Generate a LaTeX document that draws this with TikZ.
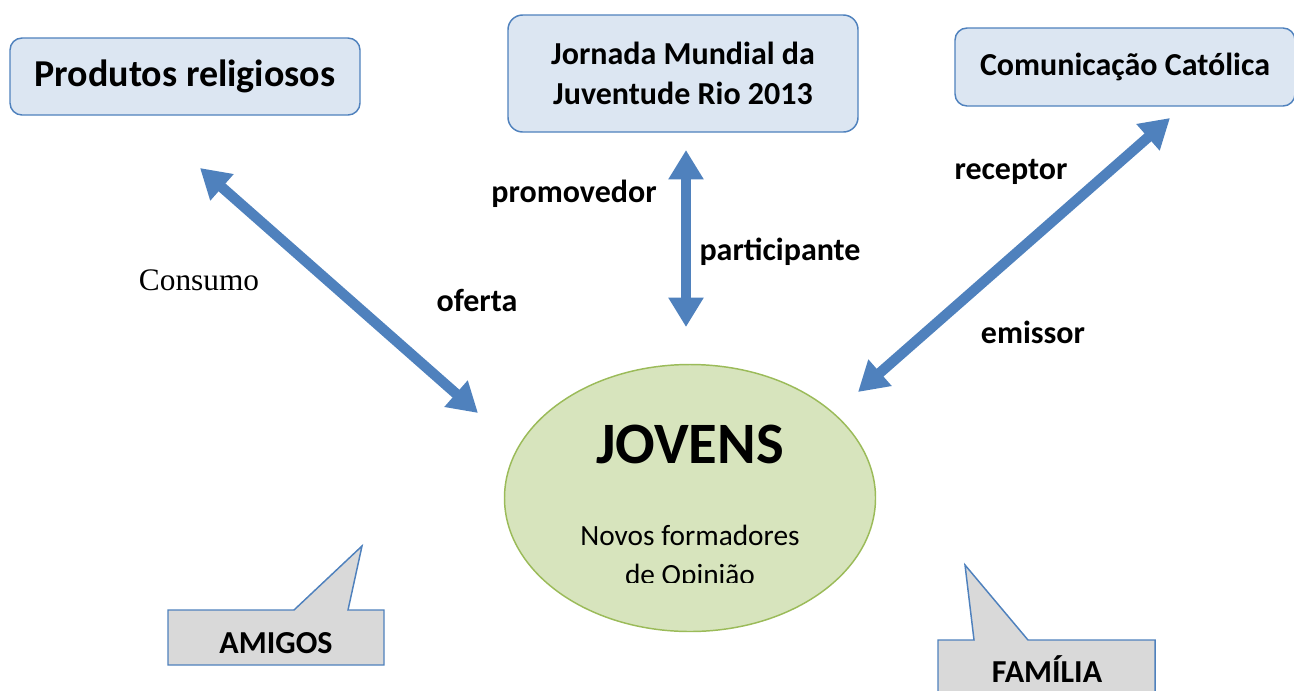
\documentclass[tikz,border=0pt]{standalone}
\usepackage{fontspec}
\setmainfont{Carlito}
\newfontfamily\timesfont{Liberation Serif}
\usetikzlibrary{arrows.meta,shapes.geometric}
\definecolor{boxblue}{HTML}{DCE6F2}
\definecolor{lineblue}{HTML}{4F81BD}
\definecolor{ovalgreen}{HTML}{D7E4BD}
\definecolor{ovalline}{HTML}{9BBB59}
\definecolor{calloutgray}{HTML}{D9D9D9}

\begin{document}
\begin{tikzpicture}[x=0.75pt,y=-0.75pt,
			topbox/.style={draw=lineblue, fill=boxblue, line width=1.1pt, rounded corners=9pt, inner sep=0pt, align=center, font=\bfseries\fontsize{24}{29.5}\selectfont},
			link/.style={lineblue, line width=7.8pt, {Triangle[width=25pt,length=22pt]}-{Triangle[width=25pt,length=22pt]}},
			lbl/.style={font=\bfseries\fontsize{24}{28}\selectfont},
			callout/.style={draw=lineblue, fill=calloutgray, line width=1.1pt} % speech bubbles
			]
			\clip (0,0) rectangle (1294,690);
			\useasboundingbox (0,0) rectangle (1294,690);
			% boxes on top
			\node[topbox, minimum width=262.5pt, minimum height=57.75pt, font=\bfseries\fontsize{28.5}{33}\selectfont] (produtos) at (185,76.5) {Produtos religiosos};
			\node[topbox, minimum width=262.5pt, minimum height=87.75pt, rounded corners=11pt] (jornada) at (683,73.5) {Jornada Mundial da\\Juventude Rio 2013};
			\node[topbox, minimum width=255pt, minimum height=58.5pt] (comunicacao) at (1125,67) {Comunicação Católica};
			% central ellipse
			\node[ellipse, draw=ovalline, fill=ovalgreen, line width=1.1pt, minimum width=278.25pt, minimum height=200.25pt] (jovens) at (690,498) {};
			\node[font=\bfseries\fontsize{44}{50}\selectfont] (jovenstxt) at (690,444) {JOVENS};
			\node[font=\fontsize{22}{26}\selectfont] (novos) at (690,535) {Novos formadores};
			\begin{scope}
				\clip (560,555) rectangle (820,582);
				\node[font=\fontsize{22}{26}\selectfont] (opiniao) at (690,577) {de Opinião};
			\end{scope}
			% arrow ends
			\coordinate (a1) at (200,168);
			\coordinate (a2) at (478,413);
			\coordinate (b1) at (686,150);
			\coordinate (b2) at (686,327);
			\coordinate (c1) at (1170,118);
			\coordinate (c2) at (858,392);
			\draw[link] (a1) -- (a2);
			\draw[link] (b1) -- (b2);
			\draw[link] (c1) -- (c2);
			% labels
			\node[font=\timesfont\fontsize{23.5}{28}\selectfont] (consumo) at (199,280) {Consumo};
			\node[lbl] (oferta) at (477,300) {oferta};
			\node[lbl] (promovedor) at (574,194) {promovedor};
			\node[lbl] (participante) at (780,252) {participante};
			\node[lbl] (receptor) at (1011,172) {receptor};
			\node[lbl] (emissor) at (1033,332) {emissor};
			% callouts
			\draw[callout] (168,610) -- (294,610) -- (362,546) -- (348,610) -- (384,610) -- (384,665) -- (168,665) -- cycle;
			\node[lbl] (amigos) at (276,643) {AMIGOS};
			\draw[callout] (938,640) -- (974,640) -- (965,565) -- (1028,640) -- (1155,640) -- (1155,700) -- (938,700) -- cycle;
			\node[lbl] (familia) at (1047,669) {FAMÍLIA};
		\end{tikzpicture}
\end{document}
